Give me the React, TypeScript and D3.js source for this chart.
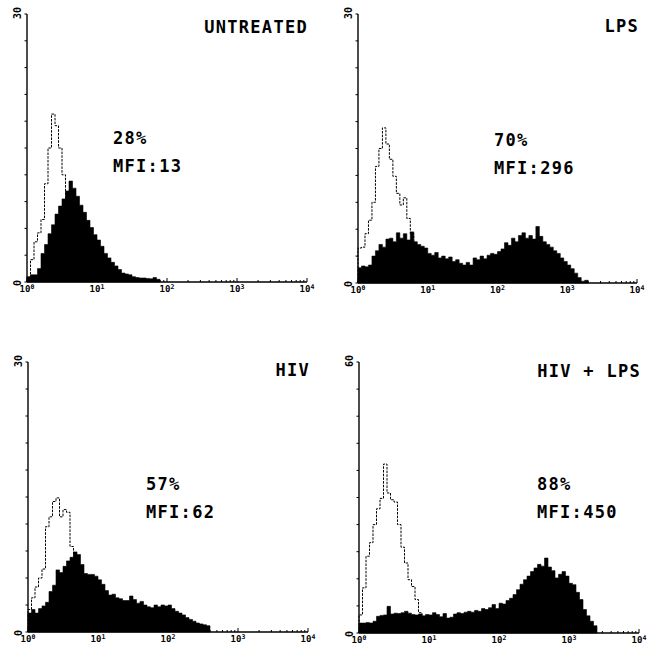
import React from "react";
import * as d3 from "d3";

// each array holds one value per channel, channels are 0.05 decade apart starting at 10^0
const STEP = 0.05;

const untreatedFilled = [
  0.6, 0.8, 0.8, 1.5, 3.2, 4.2, 5.4, 6.4, 7.6, 8.5, 9.3, 10.2, 11.3, 10.5, 9.6, 8.6,
  7.8, 6.9, 6.1, 5.3, 4.7, 4.0, 3.2, 2.7, 2.2, 1.8, 1.4, 1.0, 0.9, 0.8, 0.6, 0.5,
  0.45, 0.45, 0.4, 0.35, 0.5, 0.3, 0,
];
const untreatedControl = [
  0.5, 2.5, 4.5, 5.5, 7.0, 11.0, 15.0, 18.8, 17.5, 15.0, 12.0, 9.0, 6.5, 4.5, 3.0,
  2.0, 1.2, 0.7, 0.4, 0.2, 0,
];

const lpsFilled = [
  1.7, 1.9, 1.8, 2.0, 3.0, 3.6, 4.3, 4.0, 4.9, 5.0, 4.6, 5.6, 5.0, 5.5, 4.8, 5.7,
  4.6, 4.3, 4.1, 3.9, 3.3, 3.1, 3.4, 2.8, 3.0, 2.7, 2.9, 2.4, 2.6, 2.2, 2.0, 2.3,
  2.0, 2.8, 2.6, 3.0, 2.7, 3.1, 3.3, 3.2, 3.5, 3.8, 4.5, 4.2, 5.0, 4.6, 5.3, 5.6,
  5.0, 5.3, 4.9, 6.3, 5.2, 4.6, 4.3, 4.0, 3.6, 3.3, 2.8, 2.4, 2.0, 1.6, 1.1, 0.6,
  0.2, 0.3, 0,
];
const lpsControl = [
  3.9, 4.0, 5.5, 7.0, 9.0, 13.0, 15.0, 17.3, 15.5, 13.8, 11.9, 10.0, 8.7, 9.5, 7.2,
  5.5, 4.0, 3.0, 2.0, 1.3, 0.8, 0.4, 0,
];

const hivFilled = [
  2.1, 2.5, 2.1, 2.6, 2.9, 3.3, 4.5, 5.2, 6.9, 6.6, 7.3, 7.9, 8.3, 8.9, 8.6, 7.5,
  6.5, 6.4, 6.4, 6.2, 5.8, 5.3, 4.6, 4.1, 4.2, 3.8, 3.7, 3.5, 3.5, 4.0, 3.6, 3.2,
  3.4, 3.0, 2.8, 2.7, 3.0, 2.8, 3.0, 2.9, 3.0, 2.6, 2.3, 2.1, 1.9, 1.6, 1.4, 1.2,
  1.0, 0.9, 0.8, 0.7, 0,
];
const hivControl = [
  2.5, 3.8, 5.0, 6.0, 7.0, 11.7, 12.8, 14.5, 14.9, 12.8, 13.6, 13.3, 9.5, 7.0, 5.0,
  3.5, 2.5, 1.6, 1.0, 0.5, 0,
];

const hivLpsFilled = [
  2.2, 2.2, 2.3, 2.2, 2.6, 3.7, 3.9, 4.0, 5.9, 4.2, 4.4, 4.3, 4.5, 4.8, 4.4, 4.1,
  4.0, 4.2, 3.8, 4.1, 4.0, 4.5, 4.1, 3.6, 4.3, 3.3, 3.5, 4.2, 4.5, 4.3, 4.6, 4.8,
  4.6, 5.0, 4.8, 5.4, 5.2, 5.6, 6.3, 5.4, 6.6, 6.4, 7.2, 7.7, 8.5, 9.6, 10.8, 11.8,
  12.6, 13.6, 14.4, 15.2, 14.8, 16.6, 14.6, 13.8, 12.2, 13.0, 13.6, 12.6, 11.0, 10.7,
  9.0, 7.4, 5.2, 3.8, 2.6, 1.6, 0,
];
const hivLpsControl = [
  4.0, 10.0, 17.0, 20.0, 24.0, 27.5, 29.8, 37.4, 31.0, 29.5, 29.0, 24.0, 19.0, 15.5,
  11.8, 10.3, 7.4, 4.5, 2.5, 1.2, 0.5, 0,
];

const titles = ["UNTREATED", "LPS", "HIV", "HIV + LPS"];
const percents = ["28%", "70%", "57%", "88%"];
const mfis = ["MFI:13", "MFI:296", "MFI:62", "MFI:450"];
const yMaxLabels = ["30", "30", "30", "60"];
const yMaxValues = [30, 30, 30, 60];
const decadeExponents = [0, 1, 2, 3, 4];

const FRAMES = [
  { x0: 27, x1: 307, yTop: 14, yBase: 282, textX: 113, pctY: 144, titleX: 308, titleY: 33 },
  { x0: 358, x1: 637, yTop: 14, yBase: 283, textX: 494, pctY: 146, titleX: 639, titleY: 32 },
  { x0: 28, x1: 308, yTop: 362, yBase: 632, textX: 146, pctY: 490, titleX: 310, titleY: 376 },
  { x0: 359, x1: 639, yTop: 362, yBase: 633, textX: 537, pctY: 490, titleX: 641, titleY: 377 },
];

const MONO = "'DejaVu Sans Mono', monospace";

type Frame = (typeof FRAMES)[number];

function Panel({
  frame,
  filled,
  control,
  yMax,
  yMaxLabel,
  title,
  pct,
  mfi,
}: {
  frame: Frame;
  filled: number[];
  control: number[];
  yMax: number;
  yMaxLabel: string;
  title: string;
  pct: string;
  mfi: string;
}) {
  const x = d3.scaleLog().domain([1, 1e4]).range([frame.x0, frame.x1]);
  const y = d3.scaleLinear().domain([0, yMax]).range([frame.yBase, frame.yTop]);

  // prepend a zero so the outline rises from the baseline
  const toPts = (arr: number[]): [number, number][] => [
    [1, 0],
    ...arr.map((v, i) => [Math.pow(10, i * STEP), v] as [number, number]),
  ];

  const area = d3
    .area<[number, number]>()
    .x((d) => x(d[0]))
    .y0(y(0))
    .y1((d) => y(d[1]))
    .curve(d3.curveStepAfter);

  const line = d3
    .line<[number, number]>()
    .x((d) => x(d[0]))
    .y((d) => y(d[1]))
    .curve(d3.curveStepAfter);

  const xTicks = x.ticks();
  const yTicks = d3.range(0, 11).map((k) => (k * yMax) / 10);

  return (
    <g>
      {/* control outline first, the filled histogram hides the part below it */}
      <path
        d={line(toPts(control)) ?? ""}
        fill="none"
        stroke="#000"
        strokeWidth={1}
        strokeDasharray="2.5,1.2"
      />
      <path d={area(toPts(filled)) ?? ""} fill="#000" stroke="#000" strokeWidth={0.6} />

      {/* axes */}
      <line x1={frame.x0} x2={frame.x0} y1={frame.yTop} y2={frame.yBase} stroke="#000" strokeWidth={1.4} />
      <line x1={frame.x0} x2={frame.x1} y1={frame.yBase} y2={frame.yBase} stroke="#000" strokeWidth={1.4} />
      {yTicks.map((t) => (
        <line key={t} x1={frame.x0 - 2.5} x2={frame.x0} y1={y(t)} y2={y(t)} stroke="#000" strokeWidth={1} />
      ))}
      {xTicks.map((t, i) => {
        const major = Number.isInteger(Math.log10(t));
        return (
          <line
            key={i}
            x1={x(t)}
            x2={x(t)}
            y1={frame.yBase}
            y2={frame.yBase - (major ? 4 : 2)}
            stroke="#000"
            strokeWidth={1}
          />
        );
      })}
      {decadeExponents.map((e) => (
        <text
          key={e}
          x={x(Math.pow(10, e))}
          y={frame.yBase + 10}
          fontFamily={MONO}
          fontWeight="bold"
          fontSize={9}
          textAnchor="middle"
        >
          10
          <tspan dy={-3} fontSize={6.5}>
            {e}
          </tspan>
        </text>
      ))}
      <text
        transform={`translate(${frame.x0 - 6},${frame.yBase + 1}) rotate(-90)`}
        fontFamily={MONO}
        fontWeight="bold"
        fontSize={10}
        textAnchor="middle"
      >
        0
      </text>
      <text
        transform={`translate(${frame.x0 - 6},${frame.yTop - 1}) rotate(-90)`}
        fontFamily={MONO}
        fontWeight="bold"
        fontSize={10}
        textAnchor="middle"
      >
        {yMaxLabel}
      </text>

      {/* labels */}
      <text
        x={frame.titleX}
        y={frame.titleY}
        textAnchor="end"
        fontFamily={MONO}
        fontWeight="bold"
        fontSize={17}
        letterSpacing={1.3}
      >
        {title}
      </text>
      <text x={frame.textX} y={frame.pctY} fontFamily={MONO} fontWeight="bold" fontSize={17} letterSpacing={1.3}>
        {pct}
      </text>
      <text x={frame.textX} y={frame.pctY + 28} fontFamily={MONO} fontWeight="bold" fontSize={17} letterSpacing={1.3}>
        {mfi}
      </text>
    </g>
  );
}

export default function App() {
  const filledSets = [untreatedFilled, lpsFilled, hivFilled, hivLpsFilled];
  const controlSets = [untreatedControl, lpsControl, hivControl, hivLpsControl];
  return (
    <svg
      width={653}
      height={649}
      style={{ position: "absolute", left: 0, top: 0, background: "#fff" }}
    >
      {FRAMES.map((f, i) => (
        <Panel
          key={i}
          frame={f}
          filled={filledSets[i]}
          control={controlSets[i]}
          yMax={yMaxValues[i]}
          yMaxLabel={yMaxLabels[i]}
          title={titles[i]}
          pct={percents[i]}
          mfi={mfis[i]}
        />
      ))}
    </svg>
  );
}
